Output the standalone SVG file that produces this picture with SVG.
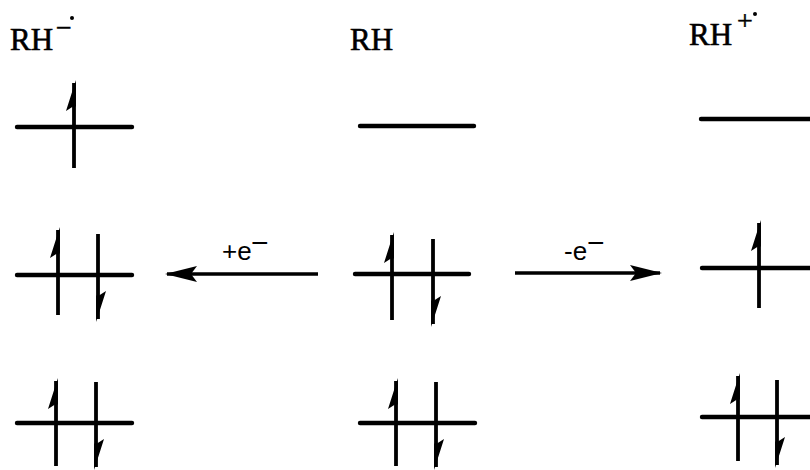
<svg xmlns="http://www.w3.org/2000/svg" xmlns:xlink="http://www.w3.org/1999/xlink" width="810" height="470" viewBox="0 0 810 470">
<style>
.lvl{stroke:#000;stroke-width:4.4;stroke-linecap:round}
.shaft{stroke:#000;stroke-width:3.8}
.head{fill:#000}
.title{font-family:"Liberation Serif","Times New Roman",serif;font-size:31px;fill:#000;stroke:#000;stroke-width:0.6}
.sup{font-family:"Liberation Serif","Times New Roman",serif;font-size:28px;fill:#000;stroke:#000;stroke-width:0.5}
.lab{font-family:"Liberation Sans",Arial,sans-serif;font-size:26px;fill:#000}
.conn{stroke:#000;stroke-width:3.6;fill:none}
</style>
<defs>
<g id="up">
<line class="shaft" x1="0" y1="3" x2="0" y2="88"/>
<path class="head" d="M1.9,0 L-8,31 L-1,26.5 L1.9,26.5 Z"/>
</g>
<marker id="ah" viewBox="0 0 32 16" refX="30" refY="8" markerWidth="32" markerHeight="16" markerUnits="userSpaceOnUse" orient="auto">
<path d="M0,0 L32,8 L0,16 L6,8 Z" fill="#000"/>
</marker>
</defs>

<g id="anion">
<text class="title" x="10" y="50">RH</text>
<text class="sup" x="56" y="37">−</text>
<circle cx="72" cy="18" r="2" fill="#000"/>
<line class="lvl" x1="17" y1="127" x2="132" y2="127"/>
<use xlink:href="#up" transform="translate(74,80)"/>
<line class="lvl" x1="17" y1="275" x2="132" y2="275"/>
<use xlink:href="#up" transform="translate(58,227)"/>
<use xlink:href="#up" transform="translate(98,322) rotate(180)"/>
<line class="lvl" x1="17" y1="423" x2="132" y2="423"/>
<use xlink:href="#up" transform="translate(56,378)"/>
<use xlink:href="#up" transform="translate(96,470) rotate(180)"/>
</g>

<g id="neutral">
<text class="title" x="350" y="50">RH</text>
<line class="lvl" x1="360" y1="126" x2="474" y2="126"/>
<line class="lvl" x1="355" y1="274" x2="469" y2="274"/>
<use xlink:href="#up" transform="translate(392,232)"/>
<use xlink:href="#up" transform="translate(433,327) rotate(180)"/>
<line class="lvl" x1="360" y1="423" x2="475" y2="423"/>
<use xlink:href="#up" transform="translate(396,378)"/>
<use xlink:href="#up" transform="translate(436,470) rotate(180)"/>
</g>

<g id="cation">
<text class="title" x="689" y="45">RH</text>
<text class="sup" x="737" y="30">+</text>
<circle cx="755" cy="14" r="2" fill="#000"/>
<line class="lvl" x1="701" y1="119" x2="812" y2="119"/>
<line class="lvl" x1="702" y1="268" x2="812" y2="268"/>
<use xlink:href="#up" transform="translate(759,220)"/>
<line class="lvl" x1="702" y1="417" x2="812" y2="417"/>
<use xlink:href="#up" transform="translate(738,373)"/>
<use xlink:href="#up" transform="translate(777,468) rotate(180)"/>
</g>

<g id="connectors">
<line class="conn" x1="318" y1="274" x2="167" y2="274" marker-end="url(#ah)"/>
<text class="lab" x="222" y="260">+e<tspan x="251" y="253" font-size="30">−</tspan></text>
<line class="conn" x1="515" y1="273" x2="660" y2="273" marker-end="url(#ah)"/>
<text class="lab" x="564" y="260">-e<tspan x="587" y="253" font-size="30">−</tspan></text>
</g>
</svg>
